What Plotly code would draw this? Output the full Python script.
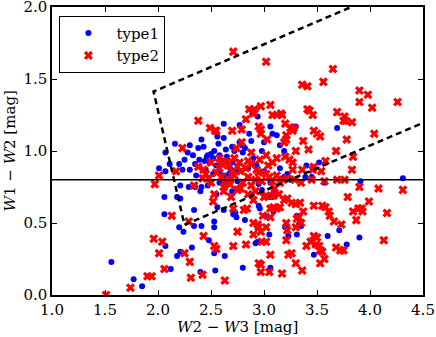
import numpy as np
import plotly.graph_objects as go

# type1 (blue dots)
type1_x = [1.56, 1.77, 1.85, 2.06, 2.07, 2.12, 2.18, 2.21, 2.20, 2.24, 2.34, 2.41, 2.32, 2.40, 2.48,
           2.34, 2.06, 2.18, 2.21, 2.53, 2.56, 2.62, 2.53, 2.53, 2.63, 2.54, 2.80, 2.82, 2.74, 2.71,
           2.73, 2.96, 2.95, 3.01, 3.05, 2.92, 2.94, 3.06, 3.20, 3.23, 3.31, 3.31, 3.35, 3.33, 3.60,
           3.71, 3.78, 3.47, 3.90, 3.05, 3.08, 3.09,
           2.21, 2.29, 2.35, 2.41, 2.47, 2.58, 2.65, 2.75, 2.85, 2.95, 3.06, 3.19, 3.25, 3.39, 3.45,
           3.57, 3.91, 4.31, 2.40, 2.55, 2.70, 2.88, 3.10, 2.98,
           2.01, 2.07, 2.07, 2.11, 2.16, 2.20, 2.23, 2.25, 2.28, 2.30, 2.35, 2.38, 2.39, 2.41, 2.43,
           2.44, 2.49, 2.50, 2.52, 2.55, 2.56, 2.57, 2.62, 2.62, 2.60, 2.65, 2.68, 2.70, 2.72, 2.77,
           2.77, 2.79, 2.80, 2.82, 2.86, 2.89, 2.94, 2.90, 2.93, 2.98, 3.00, 3.06, 3.08, 3.12, 3.15,
           3.19, 3.27, 3.30, 3.40, 3.52, 3.69, 2.45, 2.58, 2.67, 2.75, 2.85, 3.00, 2.52, 2.62, 3.15,
           3.22, 2.36, 2.30, 2.47, 2.53, 2.64, 2.70, 2.58, 2.88, 2.46, 2.33]
type1_y = [0.23, 0.11, 0.06, 0.56, 0.34, 0.18, 0.27, 0.30, 0.47, 0.44, 0.48, 0.48, 0.33, 0.16, 0.38,
           0.59, 0.68, 0.68, 0.67, 0.29, 0.61, 0.59, 0.51, 0.47, 0.27, 0.17, 0.19, 0.52, 0.54, 0.56,
           0.57, 0.60, 0.62, 0.55, 0.42, 0.36, 0.37, 0.19, 0.47, 0.41, 0.42, 0.55, 0.48, 0.49, 0.41,
           0.45, 0.35, 0.28, 0.40, 0.68, 0.68, 0.58,
           0.76, 0.75, 0.75, 0.75, 0.76, 0.78, 0.77, 0.79, 0.81, 0.77, 0.78, 0.82, 0.80, 0.82, 0.82,
           0.78, 0.79, 0.81, 0.72, 0.70, 0.72, 0.70, 0.72, 0.73,
           0.88, 0.86, 0.99, 0.91, 1.05, 0.91, 0.87, 0.94, 0.99, 1.04, 0.91, 1.02, 0.94, 1.08, 1.03,
           0.93, 0.92, 0.98, 0.95, 0.90, 1.10, 1.05, 1.09, 1.19, 0.93, 0.96, 0.88, 0.92, 1.00, 1.18,
           1.06, 1.04, 0.99, 1.02, 1.12, 1.26, 1.24, 0.95, 0.90, 1.00, 1.06, 1.17, 1.12, 1.11, 1.04,
           1.00, 1.17, 1.17, 0.90, 0.92, 1.16, 0.87, 0.86, 0.84, 0.86, 0.88, 0.86, 0.84, 0.83, 0.88,
           0.84, 0.83, 0.87, 0.97, 1.00, 1.01, 1.03, 0.97, 1.07, 0.96, 0.97]

# type2 (red crosses)
type2_x = [2.71, 3.02, 3.65, 3.56, 3.36, 3.41, 3.90, 3.98, 3.90, 4.02, 4.26, 3.41, 3.43, 3.46, 3.69,
           3.75, 3.76, 3.77, 3.83, 4.04, 3.17, 3.20, 3.25, 3.28, 3.27, 3.21, 3.21, 3.19, 3.47, 3.50,
           3.53, 3.37, 3.78, 3.42, 3.68, 3.58, 3.84, 3.83, 3.47, 3.54, 3.36, 3.46, 3.27, 3.20, 3.24,
           3.27, 3.30,
           2.38, 2.49, 2.55, 2.23, 2.86, 2.91, 2.97, 3.06, 3.08, 3.12, 3.16, 2.90, 2.83, 2.95, 2.97,
           2.54, 2.70, 2.79, 3.03, 2.79, 2.97, 2.74,
           2.38, 2.43, 2.42, 2.17, 2.01, 1.97, 2.34, 2.48, 2.50, 2.55, 2.60, 2.63, 2.68, 2.72, 2.78,
           2.80, 2.85, 2.88, 2.92, 2.95, 2.98, 3.02, 3.05, 3.08, 3.12, 3.15, 3.18, 3.22, 3.29, 3.35,
           3.45, 3.57, 3.69, 3.76, 2.60, 2.65, 2.72, 2.75, 2.85, 2.88, 2.96, 3.08, 3.12, 3.02, 2.88,
           2.70,
           2.53, 2.52, 2.62, 2.69, 2.75, 2.85, 2.90, 2.81, 2.84, 2.71, 3.00, 3.02, 3.09, 3.14, 3.06,
           3.09, 3.12, 3.15, 3.22, 3.19, 3.26, 3.30, 3.34, 3.47, 3.55, 3.37, 3.58, 3.61, 3.62, 3.79,
           3.90, 4.08, 4.31, 3.99, 3.84, 3.89, 3.92, 3.93, 4.16, 3.87, 3.66, 3.73, 3.31, 3.33, 3.35,
           3.30, 3.22, 3.21,
           2.13, 2.29, 2.43, 1.96, 2.04, 2.01, 2.25, 2.30, 2.06, 2.42, 1.90, 1.94, 2.31, 1.74, 1.51,
           2.53, 2.55, 2.71, 2.83, 2.75, 2.63, 2.95, 2.97, 2.97, 3.05, 3.06, 2.90, 2.94, 2.95, 2.97,
           3.02, 2.90, 2.98, 3.02, 2.99, 3.06, 3.21, 3.23, 3.26, 3.30, 3.36, 3.17, 3.47, 3.50, 3.44,
           3.49, 3.52, 3.40, 3.53, 3.55, 3.57, 3.53, 3.68, 3.72, 3.75, 4.13,
           2.58, 2.66, 2.77, 2.83, 2.93, 3.04, 2.45, 2.62, 2.68, 2.78, 3.10, 2.50, 2.58, 2.92]
type2_y = [1.69, 1.62, 1.57, 1.48, 1.46, 1.45, 1.42, 1.39, 1.34, 1.30, 1.34, 1.29, 1.28, 1.25, 1.27,
           1.21, 1.24, 1.21, 1.20, 1.12, 1.25, 1.19, 1.16, 1.16, 1.14, 1.11, 1.08, 1.06, 1.14, 1.12,
           1.10, 1.07, 1.08, 1.01, 1.00, 0.93, 0.96, 0.87, 0.89, 0.86, 0.87, 0.87, 0.87, 0.96, 0.94,
           0.92, 1.00,
           1.21, 1.16, 1.14, 1.02, 1.29, 1.29, 1.31, 1.32, 1.25, 1.25, 1.26, 1.26, 1.22, 1.17, 1.15,
           1.14, 1.14, 1.15, 1.08, 1.06, 1.12, 1.02,
           0.89, 0.87, 0.81, 0.86, 0.83, 0.77, 0.76, 0.81, 0.78, 0.85, 0.82, 0.79, 0.80, 0.83, 0.86,
           0.78, 0.82, 0.76, 0.80, 0.85, 0.79, 0.84, 0.82, 0.79, 0.83, 0.78, 0.80, 0.81, 0.80, 0.78,
           0.80, 0.79, 0.80, 0.80, 0.91, 0.93, 0.95, 0.89, 0.93, 0.91, 0.94, 0.92, 0.95, 0.97, 0.99,
           0.86,
           0.70, 0.65, 0.72, 0.68, 0.73, 0.70, 0.66, 0.59, 0.60, 0.60, 0.68, 0.69, 0.69, 0.70, 0.60,
           0.61, 0.60, 0.61, 0.67, 0.66, 0.64, 0.63, 0.64, 0.62, 0.62, 0.58, 0.61, 0.58, 0.55, 0.68,
           0.75, 0.74, 0.73, 0.65, 0.58, 0.60, 0.60, 0.58, 0.57, 0.52, 0.51, 0.49, 0.53, 0.54, 0.50,
           0.47, 0.45, 0.50,
           0.55, 0.51, 0.41, 0.39, 0.37, 0.29, 0.29, 0.23, 0.18, 0.14, 0.13, 0.13, 0.12, 0.05, 0.00,
           0.34, 0.32, 0.34, 0.35, 0.44, 0.10, 0.22, 0.21, 0.16, 0.16, 0.28, 0.50, 0.49, 0.47, 0.44,
           0.47, 0.42, 0.37, 0.37, 0.55, 0.54, 0.38, 0.28, 0.29, 0.22, 0.17, 0.15, 0.41, 0.40, 0.37,
           0.35, 0.34, 0.34, 0.31, 0.30, 0.25, 0.22, 0.33, 0.31, 0.31, 0.38,
           0.88, 0.90, 0.92, 0.88, 0.87, 0.90, 0.84, 0.75, 0.77, 0.74, 0.74, 0.92, 0.95, 0.72]

# AGN wedge: W1-W2 = a*(W2-W3) + b (upper / lower), plus the steep left edge
slope, upper_b, lower_b = 0.315, 0.796, -0.222
edge_slope, edge_b = -3.172, 7.624
cut = 0.8

xv_top = (edge_b - upper_b) / (slope - edge_slope)
xv_bot = (edge_b - lower_b) / (slope - edge_slope)
wedge_x = [4.5, xv_top, xv_bot, 4.5]
wedge_y = [slope * 4.5 + upper_b, slope * xv_top + upper_b,
           slope * xv_bot + lower_b, slope * 4.5 + lower_b]

font = "DejaVu Serif, Liberation Serif, serif"

fig = go.Figure()
fig.add_trace(go.Scatter(x=type1_x, y=type1_y, mode="markers", name="type1",
                         marker=dict(color="blue", size=6, symbol="circle", line_width=0)))
fig.add_trace(go.Scatter(x=type2_x, y=type2_y, mode="markers", name="type2",
                         marker=dict(color="red", size=8, symbol="x", line_width=0)))
fig.add_trace(go.Scatter(x=[1.0, 4.5], y=[cut, cut], mode="lines", showlegend=False,
                         line=dict(color="black", width=1.5)))
fig.add_trace(go.Scatter(x=wedge_x, y=wedge_y, mode="lines", showlegend=False,
                         line=dict(color="black", width=2.5, dash="6px,4px")))

axis = dict(showgrid=False, zeroline=False, showline=True, linecolor="black", linewidth=1.5,
            mirror="ticks", ticks="inside", ticklen=5, tickwidth=1, tickcolor="black",
            automargin=False, ticklabeloverflow="allow",
            tickfont=dict(family=font, size=15, color="black"))
fig.update_xaxes(axis, range=[1.0, 4.5], dtick=0.5, tickformat=".1f")
fig.update_yaxes(axis, range=[0.0, 2.0], dtick=0.5, tickformat=".1f")

title_font = dict(family=font, size=15, color="black")
fig.add_annotation(text="<i>W</i>2 − <i>W</i>3 [mag]", xref="paper", yref="paper",
                   x=0.5, y=-0.11, xanchor="center", yanchor="middle",
                   showarrow=False, font=title_font)
fig.add_annotation(text="<i>W</i>1 − <i>W</i>2 [mag]", xref="paper", yref="paper",
                   x=-0.112, y=0.5, xanchor="center", yanchor="middle", textangle=-90,
                   showarrow=False, font=title_font)

fig.update_layout(
    width=436, height=337,
    margin=dict(l=52, r=13, t=7, b=42),
    plot_bgcolor="white", paper_bgcolor="white",
    legend=dict(x=0.02, y=0.97, xanchor="left", yanchor="top",
                bordercolor="black", borderwidth=1, bgcolor="white",
                font=dict(family=font, size=15, color="black"), itemwidth=46),
)

# the page body has a default 8px margin; drop it so the figure sits at the corner
fig.write_html("out.html", config={"displayModeBar": False},
               post_script="document.body.style.margin='0';")
